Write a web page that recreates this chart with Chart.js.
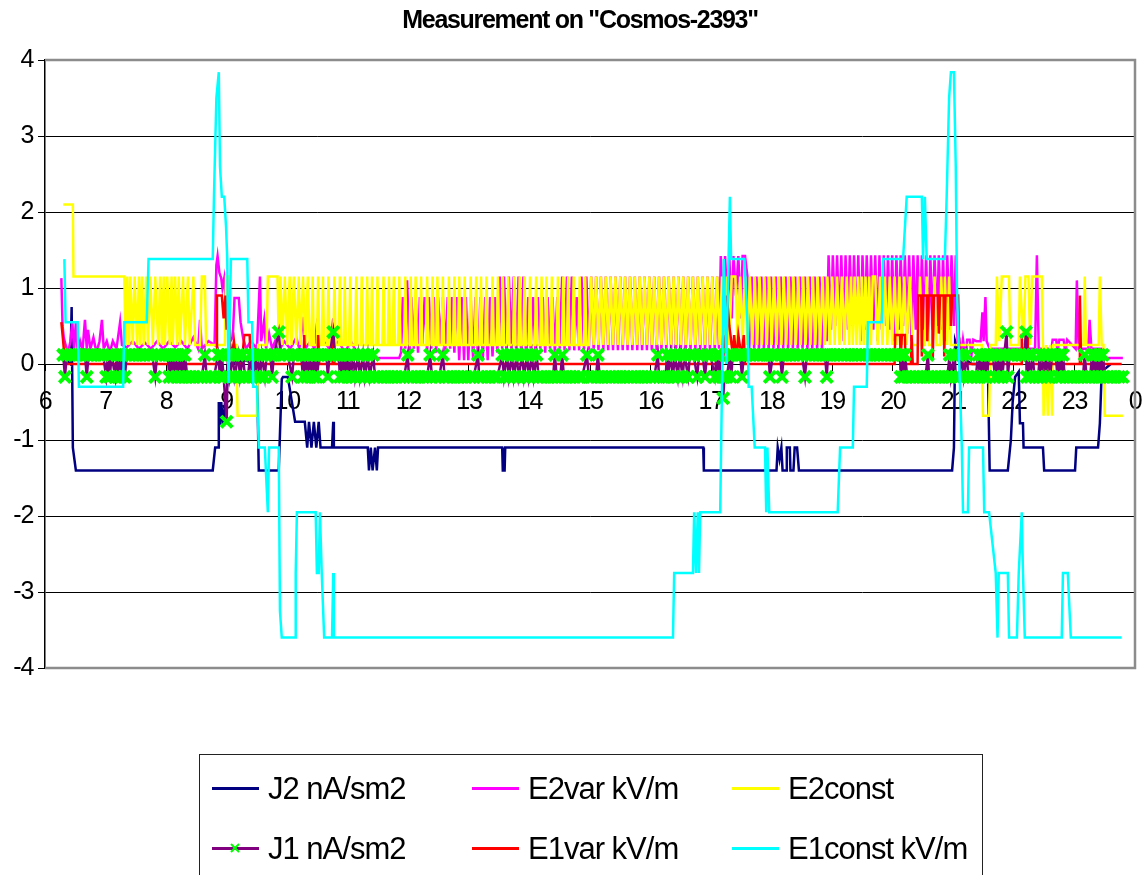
<!DOCTYPE html>
<html>
<head>
<meta charset="utf-8">
<title>Measurement on "Cosmos-2393"</title>
<script src="https://cdn.jsdelivr.net/npm/chart.js@4.4.0/dist/chart.umd.min.js"></script>
<style>
  body { margin: 0; background: #fff; }
  #wrap { position: relative; width: 1146px; height: 875px; overflow: hidden; }
  #legend {
    position: absolute; left: 199px; top: 754px; width: 784px; height: 140px;
    border: 1px solid #222; box-sizing: border-box;
    font-family: "Liberation Sans", Arial, sans-serif; font-size: 31px; color: #000;
  }
  .item { position: absolute; height: 36px; }
  .item .line { position: absolute; left: 0; top: 16px; width: 47px; height: 3px; }
  .item .txt { position: absolute; left: 56px; top: 0; line-height: 36px; white-space: nowrap; letter-spacing: -1px; }
  .item svg { position: absolute; left: 18px; top: 12px; }
</style>
</head>
<body>
<div id="wrap">
  <canvas id="graph" width="1146" height="875"></canvas>
  <div id="legend"></div>
</div>
<script>
//------------ tick labels ------------//
var hourLabels = ['6','7','8','9','10','11','12','13','14','15','16','17','18','19','20','21','22','23','0'];

//------------ series names ------------//
var seriesNames = ['J2 nA/sm2', 'E2var kV/m', 'E2const', 'J1 nA/sm2', 'E1var kV/m', 'E1const kV/m'];

//------------ data: [hour, value] ------------//
var j2Data = [
  [6.30,0.1],[6.42,0],[6.44,0.75],[6.46,-1.1],[6.51,-1.4],[8.77,-1.4],[8.81,-1.1],[8.86,-1.1],[8.87,-0.5],[8.89,-0.8],
  [8.91,-0.5],[8.94,-0.8],[8.98,-0.45],[9.05,0],[9.30,0.05],[9.50,0],[9.53,-1.4],[9.86,-1.4],[9.91,-0.2],[9.93,-0.17],
  [10.01,-0.17],[10.13,-0.76],[10.29,-0.76],[10.33,-1.1],[10.36,-0.76],[10.40,-1.1],[10.44,-0.76],[10.48,-1.1],[10.52,-0.76],[10.55,-1.1],
  [10.74,-1.1],[10.76,-0.76],[10.77,-1.1],[11.33,-1.1],[11.35,-1.4],[11.38,-1.1],[11.41,-1.4],[11.45,-1.1],[11.48,-1.4],[11.50,-1.1],
  [13.55,-1.1],[13.56,-1.4],[13.59,-1.4],[13.60,-1.1],[16.87,-1.1],[16.88,-1.4],[18.08,-1.4],[18.10,-1.1],[18.13,-1.25],[18.16,-1.1],
  [18.18,-1.4],[18.24,-1.4],[18.25,-1.1],[18.30,-1.1],[18.31,-1.4],[18.36,-1.4],[18.38,-1.1],[18.42,-1.1],[18.45,-1.4],[20.98,-1.4],
  [21.01,-1.1],[21.03,0.3],[21.10,0.1],[21.31,0],[21.57,0],[21.60,-1.4],[21.90,-1.4],[21.95,-1.0],[21.98,-0.5],[22.02,-0.17],
  [22.08,-0.1],[22.10,-0.78],[22.15,-0.78],[22.16,-1.1],[22.48,-1.1],[22.50,-1.4],[23.01,-1.4],[23.03,-1.1],[23.39,-1.1],[23.42,-0.78],
  [23.45,-0.1],[23.60,0]
];

var e2varData = [
  [6.27,1.13],[6.29,0.5],[6.31,0.35],[6.34,0.25],[6.38,0.15],[6.42,0.3],[6.45,0.55],[6.48,0.2],[6.51,0.55],[6.54,0.15],
  [6.58,0.3],[6.62,0.18],[6.66,0.58],[6.69,0.2],[6.71,0.45],[6.75,0.2],[6.80,0.35],[6.85,0.15],[6.90,0.3],[6.94,0.58],
  [6.97,0.2],[7.02,0.3],[7.07,0.15],[7.12,0.3],[7.18,0.2],[7.24,0.55],[7.27,0.25],[7.35,0.22],[7.45,0.3],[7.55,0.2],
  [7.65,0.28],[7.75,0.2],[7.85,0.3],[7.95,0.2],[8.05,0.3],[8.15,0.22],[8.25,0.3],[8.35,0.2],[8.45,0.35],[8.53,0.2],
  [8.56,0.58],[8.59,0.2],[8.70,0.3],[8.80,0.25],[8.83,1.3],[8.85,1.42],[8.88,1.2],[8.91,1.13],[8.93,1.0],[8.96,1.13],
  [8.98,0.9],[9.00,0.5],[9.03,0.85],[9.06,0.3],[9.10,0.35],[9.13,0.87],[9.20,0.87],[9.23,0.55],[9.27,0.35],[9.32,0.2],
  [9.40,0.3],[9.50,0.2],[9.55,1.15],[9.57,0.3],[9.62,0.58],[9.65,0.2],[9.70,0.4],[9.75,0.2],[9.80,0.3],[9.85,0.15],
  [9.95,0.3],[10.05,0.2],[10.15,0.35],[10.20,0.2],[10.27,0.62],[10.30,0.2],[10.38,0.3],[10.45,0.2],[10.50,0.6],[10.53,0.25],
  [10.60,0.3],[10.70,0.2],[10.76,0.6],[10.79,0.25],[10.85,0.3],[10.95,0.15],[11.05,0.3],[11.15,0.15],[11.25,0.1],[11.30,0.08],
  [11.85,0.08],[11.88,0.15],[11.91,0.88],[11.95,0.2],[11.98,1.1],[12.02,0.15],[12.05,0.88],[12.09,0.2],[12.12,0.88],[12.16,0.15],
  [12.19,0.88],[12.23,0.25],[12.27,0.88],[12.31,0.15],[12.34,0.88],[12.38,0.2],[12.42,0.88],[12.46,0.15],[12.49,0.88],[12.53,0.25],
  [12.57,0.88],[12.61,0.15],[12.65,0.88],[12.69,0.2],[12.72,0.88],[12.76,0.15],[12.80,0.88],[12.84,0.05],[12.88,0.88],[12.92,0.05],
  [12.95,0.88],[12.99,0.05],[13.03,0.88],[13.07,0.05],[13.11,0.88],[13.15,0.05],[13.19,0.88],[13.23,0.05],[13.27,0.88],[13.31,0.05],
  [13.35,0.88],[13.39,0.1],[13.43,0.88],[13.47,0.15],[13.51,1.15],[13.55,0.2],[13.58,1.15],[13.62,0.15],[13.66,1.15],[13.70,0.2],
  [13.74,1.15],[13.78,0.15],[13.82,1.15],[13.86,0.2],[13.90,1.15],[13.94,0.15],[13.98,0.88],[14.02,0.2],[14.06,0.88],[14.10,0.15],
  [14.14,0.88],[14.18,0.2],[14.22,0.88],[14.26,0.15],[14.30,0.88],[14.34,0.2],[14.38,0.88],[14.42,0.15],[14.46,0.88],[14.50,0.2],
  [14.54,1.15],[14.58,0.18],[14.62,1.15],[14.66,0.18],[14.70,1.15],[14.74,0.18],[14.78,0.88],[14.82,0.18],[14.86,1.15],[14.90,0.18],
  [14.94,1.15],[14.98,0.18],[15.02,1.15],[15.06,0.18],[15.10,1.15],[15.14,0.18],[15.18,1.15],[15.22,0.18],[15.26,1.15],[15.30,0.18],
  [15.34,1.15],[15.38,0.18],[15.42,1.15],[15.46,0.18],[15.50,1.15],[15.54,0.18],[15.58,1.15],[15.62,0.18],[15.66,1.15],[15.70,0.18],
  [15.74,1.15],[15.78,0.18],[15.82,1.15],[15.86,0.18],[15.90,1.15],[15.94,0.18],[15.98,1.15],[16.02,0.18],[16.06,1.15],[16.10,0.18],
  [16.14,1.15],[16.18,0.18],[16.22,1.15],[16.26,0.18],[16.30,1.15],[16.34,0.18],[16.38,1.15],[16.42,0.18],[16.46,1.15],[16.50,0.18],
  [16.54,1.15],[16.58,0.18],[16.62,1.15],[16.66,0.18],[16.70,1.15],[16.74,0.18],[16.78,1.15],[16.82,0.18],[16.86,1.15],[16.90,0.18],
  [16.94,1.15],[16.98,0.18],[17.02,1.15],[17.06,0.18],[17.10,1.15],[17.13,0.2],[17.16,1.42],[17.20,0.6],[17.23,1.42],[17.27,0.8],
  [17.30,1.42],[17.34,0.6],[17.37,1.42],[17.41,0.9],[17.45,1.42],[17.49,0.6],[17.52,1.42],[17.56,1.42],[17.60,1.15],[17.63,0.2],
  [17.67,1.15],[17.71,0.2],[17.75,1.15],[17.79,0.18],[17.83,1.15],[17.87,0.2],[17.91,1.15],[17.95,0.18],[17.99,1.15],[18.03,0.2],
  [18.07,1.15],[18.11,0.18],[18.15,1.15],[18.19,0.2],[18.23,1.15],[18.27,0.18],[18.31,1.15],[18.35,0.2],[18.39,1.15],[18.43,0.18],
  [18.47,1.15],[18.51,0.2],[18.55,1.15],[18.59,0.18],[18.63,1.15],[18.67,0.2],[18.71,1.15],[18.75,0.18],[18.79,1.15],[18.83,0.2],
  [18.87,1.15],[18.91,0.3],[18.94,1.43],[18.98,0.45],[19.01,1.43],[19.05,0.5],[19.08,1.43],[19.12,0.45],[19.15,1.43],[19.19,0.3],
  [19.22,1.43],[19.26,0.45],[19.29,1.43],[19.33,0.5],[19.36,1.43],[19.40,0.45],[19.43,1.43],[19.47,0.3],[19.50,1.43],[19.54,0.45],
  [19.57,1.43],[19.61,0.5],[19.64,1.43],[19.68,0.45],[19.71,1.43],[19.75,0.3],[19.78,1.43],[19.82,0.45],[19.85,1.43],[19.89,0.5],
  [19.92,1.43],[19.96,0.45],[19.99,1.43],[20.03,0.3],[20.06,1.43],[20.10,0.45],[20.13,1.43],[20.17,0.5],[20.20,1.43],[20.24,0.4],
  [20.27,1.43],[20.31,0.3],[20.34,1.43],[20.38,0.45],[20.41,1.43],[20.45,0.5],[20.48,1.43],[20.52,0.45],[20.55,1.43],[20.59,0.3],
  [20.62,1.43],[20.66,0.45],[20.69,1.43],[20.73,0.5],[20.76,1.43],[20.80,0.45],[20.83,1.43],[20.87,0.3],[20.90,1.43],[20.94,0.45],
  [20.97,1.43],[21.01,0.5],[21.04,1.43],[21.07,0.3],[21.10,0.32],[21.13,0.1],[21.16,0.32],[21.20,0.1],[21.23,0.32],[21.27,0.32],
  [21.30,0.12],[21.33,0.32],[21.38,0.3],[21.45,0.3],[21.48,0.68],[21.50,0.3],[21.53,0.88],[21.55,0.3],[21.60,0.2],[22.35,0.2],
  [22.38,1.43],[22.41,0.2],[22.62,0.2],[22.64,0.32],[22.70,0.32],[22.72,0.15],[22.75,0.32],[22.82,0.32],[22.85,0.15],[22.88,0.32],
  [23.02,0.2],[23.04,1.1],[23.07,0.2],[23.23,0.2],[23.25,0.58],[23.28,0.2],[23.45,0.2],[23.47,0.08],[23.80,0.08]
];

var e2constData = [
  [6.30,2.1],[6.46,2.1],[6.47,1.15],[7.31,1.15],[7.33,0.25],[7.36,1.15],[7.39,0.25],[7.41,1.15],[7.45,0.25],[7.48,1.15],
  [7.52,0.25],[7.55,1.15],[7.57,0.25],[7.60,1.15],[7.63,0.25],[7.67,1.15],[7.70,0.25],[7.74,1.15],[7.78,0.25],[7.82,1.15],
  [7.87,0.25],[7.90,1.15],[7.93,0.25],[7.96,1.15],[7.98,0.25],[8.02,1.15],[8.06,0.25],[8.09,1.15],[8.11,0.25],[8.15,1.15],
  [8.18,0.25],[8.21,1.15],[8.23,0.25],[8.28,1.15],[8.31,0.25],[8.36,1.15],[8.39,0.25],[8.45,1.15],[8.48,0.25],[8.56,0.25],
  [8.59,1.15],[8.64,1.15],[8.66,0.25],[8.97,0.25],[8.99,1.15],[9.03,1.15],[9.05,0.25],[9.16,0.25],[9.18,-0.68],[9.50,-0.68],
  [9.52,0.25],[9.66,0.25],[9.68,1.15],[9.84,1.15],[9.86,0.25],[9.89,1.15],[9.92,0.25],[9.96,1.15],[10.00,0.25],[10.04,1.15],
  [10.07,0.25],[10.11,1.15],[10.15,0.25],[10.19,1.15],[10.22,0.25],[10.26,1.15],[10.30,0.25],[10.34,1.15],[10.37,0.25],
  [10.40,0.25],[10.42,1.15],[10.44,0.25],[10.49,0.25],[10.51,1.15],[10.53,0.25],[10.57,0.25],[10.59,1.15],[10.61,0.25],
  [10.66,0.25],[10.68,1.15],[10.70,0.25],[10.76,0.25],[10.78,1.15],[10.80,0.25],[10.85,0.25],[10.87,1.15],[10.89,0.25],
  [10.93,0.25],[10.95,1.15],[10.97,0.25],[11.02,0.25],[11.04,1.15],[11.06,0.25],[11.12,0.25],[11.14,1.15],[11.16,0.25],
  [11.21,0.25],[11.23,1.15],[11.25,0.25],[11.30,0.25],[11.32,1.15],[11.34,0.25],[11.38,0.25],[11.40,1.15],[11.42,0.25],
  [11.47,0.25],[11.49,1.15],[11.51,0.25],[11.57,0.25],[11.59,1.15],[11.61,0.25],[11.66,0.25],[11.68,1.15],[11.70,0.25],
  [11.74,0.25],[11.76,1.15],[11.78,0.25],[11.83,0.25],[11.85,1.15],[11.87,0.25],[11.93,0.25],[11.95,1.15],[11.97,0.25],
  [12.02,0.25],[12.04,1.15],[12.06,0.25],[12.10,0.25],[12.12,1.15],[12.14,0.25],[12.19,0.25],[12.21,1.15],[12.23,0.25],
  [12.29,0.25],[12.31,1.15],[12.33,0.25],[12.38,0.25],[12.40,1.15],[12.42,0.25],[12.46,0.25],[12.48,1.15],[12.50,0.25],
  [12.55,0.25],[12.57,1.15],[12.59,0.25],[12.65,0.25],[12.67,1.15],[12.69,0.25],[12.74,0.25],[12.76,1.15],[12.78,0.25],
  [12.82,0.25],[12.84,1.15],[12.86,0.25],[12.91,0.25],[12.93,1.15],[12.95,0.25],[13.01,0.25],[13.03,1.15],[13.05,0.25],
  [13.10,0.25],[13.12,1.15],[13.14,0.25],[13.18,0.25],[13.20,1.15],[13.22,0.25],[13.27,0.25],[13.29,1.15],[13.31,0.25],
  [13.37,0.25],[13.39,1.15],[13.41,0.25],[13.46,0.25],[13.48,1.15],[13.50,0.25],[13.54,0.25],[13.56,1.15],[13.58,0.25],
  [13.63,0.25],[13.65,1.15],[13.67,0.25],[13.73,0.25],[13.75,1.15],[13.77,0.25],[13.82,0.25],[13.84,1.15],[13.86,0.25],
  [13.90,0.25],[13.92,1.15],[13.94,0.25],[13.99,0.25],[14.01,1.15],[14.03,0.25],[14.09,0.25],[14.11,1.15],[14.13,0.25],
  [14.18,0.25],[14.20,1.15],[14.22,0.25],[14.26,0.25],[14.28,1.15],[14.30,0.25],[14.35,0.25],[14.37,1.15],[14.39,0.25],
  [14.45,0.25],[14.47,1.15],[14.49,0.25],[14.54,0.25],[14.56,1.15],[14.58,0.25],[14.62,0.25],[14.64,1.15],[14.66,0.25],
  [14.71,0.25],[14.73,1.15],[14.75,0.25],[14.81,0.25],[14.83,1.15],[14.85,0.25],[14.90,0.25],[14.92,1.15],[14.94,0.25],
  [14.98,0.25],[15.02,1.15],
  [15.06,0.25],[15.10,1.15],[15.14,0.25],[15.18,1.15],[15.22,0.25],[15.26,1.15],[15.30,0.25],[15.34,1.15],[15.38,0.25],[15.42,1.15],
  [15.46,0.25],[15.50,1.15],[15.54,0.25],[15.58,1.15],[15.62,0.25],[15.66,1.15],[15.70,0.25],[15.74,1.15],[15.78,0.25],[15.82,1.15],
  [15.86,0.25],[15.90,1.15],[15.94,0.25],[15.98,1.15],[16.02,0.25],[16.06,1.15],[16.10,0.25],[16.14,1.15],[16.18,0.25],[16.22,1.15],
  [16.26,0.25],[16.30,1.15],[16.34,0.25],[16.38,1.15],[16.42,0.25],[16.46,1.15],[16.50,0.25],[16.54,1.15],[16.58,0.25],[16.62,1.15],
  [16.66,0.25],[16.70,1.15],[16.74,0.25],[16.78,1.15],[16.82,0.25],[16.86,1.15],[16.90,0.25],[16.94,1.15],[16.98,0.25],[17.02,1.15],
  [17.06,0.25],[17.10,1.15],[17.14,0.25],[17.18,1.15],[17.22,0.25],[17.26,1.15],[17.30,0.25],[17.34,1.15],[17.40,1.15],[17.44,0.25],
  [17.48,1.15],[17.52,0.25],[17.56,1.15],[17.60,0.25],[17.64,1.15],[17.68,0.25],[17.72,1.15],[17.76,0.25],[17.80,1.15],[17.84,0.25],
  [17.88,1.15],[17.92,0.25],[17.96,1.15],[18.00,0.25],[18.04,1.15],[18.08,0.25],[18.12,1.15],[18.16,0.25],[18.20,1.15],[18.24,0.25],
  [18.28,1.15],[18.32,0.25],[18.36,1.15],[18.40,0.25],[18.44,1.15],[18.48,0.25],[18.52,1.15],[18.56,0.25],[18.60,1.15],[18.64,0.25],
  [18.68,1.15],[18.72,0.25],[18.76,1.15],[18.80,0.25],[18.84,1.15],[18.88,0.25],[18.92,1.15],[18.96,0.25],[19.00,1.15],[19.04,0.25],
  [19.08,1.15],[19.12,0.25],[19.16,1.15],[19.20,0.25],[19.24,1.15],[19.28,0.25],[19.31,1.15],[19.34,0.25],[19.37,1.15],[19.40,0.25],
  [19.43,1.15],[19.46,0.25],[19.49,1.15],[19.52,0.25],[19.55,1.15],[19.58,0.25],[19.61,1.15],[19.64,0.25],[19.67,1.15],[19.71,1.15],
  [19.75,0.25],[19.79,1.15],[19.83,0.25],[19.87,1.15],[19.91,0.25],[19.95,1.15],[19.99,0.25],[20.03,1.15],[20.07,0.25],[20.11,1.15],
  [20.15,0.25],[20.19,1.15],[20.23,0.25],[20.28,1.15],[20.33,0.25],[20.42,0.25],[20.45,1.15],[20.48,0.25],[20.53,0.25],[20.56,1.15],
  [20.60,0.25],[20.66,0.25],[20.69,1.15],[20.72,0.25],[20.78,0.25],[20.80,1.15],[20.84,0.25],[20.86,1.15],[20.90,0.25],[20.93,1.15],
  [20.96,0.25],[21.47,0.25],[21.49,-0.68],[21.59,-0.68],[21.61,0.25],[21.70,0.25],[21.72,1.15],[21.76,0.3],[21.80,1.15],[21.92,1.15],
  [21.94,0.25],[22.08,0.25],[22.10,1.15],[22.16,0.25],[22.19,1.15],[22.24,1.15],[22.27,0.25],[22.30,1.15],[22.46,1.15],[22.48,0.25],
  [22.49,-0.68],[22.53,0.25],[22.56,-0.68],[22.60,0.25],[22.63,-0.68],[22.65,0.25],[23.15,0.25],[23.17,1.15],[23.19,0.25],[23.40,0.25],
  [23.42,1.15],[23.45,0.25],[23.48,0.25],[23.50,-0.68],[23.80,-0.68]
];

var j1Data = [
  [6.30,0.12],[6.33,-0.17],[6.36,0.12],[6.42,0.12],[6.48,0.12],[6.54,0.12],[6.60,0.12],[6.66,0.12],[6.69,-0.17],[6.72,0.12],
  [6.78,0.12],[6.84,0.12],[6.90,0.12],[6.96,0.12],[7.01,-0.17],[7.04,0.12],[7.07,-0.17],[7.10,0.12],[7.16,-0.17],[7.18,0.12],
  [7.20,-0.17],[7.23,0.12],[7.25,-0.17],[7.28,0.12],[7.32,-0.17],[7.35,0.12],[7.41,0.12],[7.47,0.12],[7.53,0.12],[7.59,0.12],
  [7.65,0.12],[7.71,0.12],[7.77,0.12],[7.82,-0.17],[7.85,0.12],[7.91,0.12],[7.97,0.12],[8.03,0.12],[8.05,-0.17],[8.08,0.12],
  [8.11,-0.17],[8.14,0.12],[8.17,-0.17],[8.20,0.12],[8.23,-0.17],[8.26,0.12],[8.29,-0.17],[8.31,0.12],[8.35,-0.17],[8.41,-0.17],
  [8.47,-0.17],[8.53,-0.17],[8.59,-0.17],[8.64,0.12],[8.67,-0.17],[8.73,-0.17],[8.79,-0.17],[8.86,0.12],[8.89,-0.17],[8.92,0.12],
  [8.95,-0.17],[9.00,-0.76],[9.02,0.12],[9.05,-0.17],[9.10,0.12],[9.13,-0.17],[9.19,0.12],[9.22,-0.17],[9.27,0.12],[9.30,-0.17],
  [9.35,-0.17],[9.39,0.12],[9.42,-0.17],[9.45,0.12],[9.48,-0.17],[9.51,0.12],[9.55,-0.17],[9.58,0.12],[9.63,-0.17],[9.66,0.12],
  [9.72,0.12],[9.75,-0.17],[9.78,0.12],[9.86,0.42],[9.89,0.12],[9.95,0.12],[10.01,0.12],[10.08,-0.17],[10.11,0.12],[10.17,0.12],
  [10.23,0.12],[10.26,-0.17],[10.29,0.12],[10.32,-0.17],[10.35,0.12],[10.38,-0.17],[10.41,0.12],[10.44,-0.17],[10.47,0.12],[10.49,-0.17],
  [10.53,0.12],[10.59,0.12],[10.65,0.12],[10.67,-0.17],[10.70,0.12],[10.76,0.42],[10.79,0.12],[10.85,0.12],[10.87,-0.17],[10.90,0.12],
  [10.93,-0.17],[10.96,0.12],[10.99,-0.17],[11.02,0.12],[11.05,-0.17],[11.09,0.12],[11.12,-0.17],[11.17,0.12],[11.20,-0.17],[11.25,0.12],
  [11.28,-0.17],[11.33,0.12],[11.36,-0.17],[11.42,0.12],[11.45,-0.17],[11.51,-0.17],[11.57,-0.17],[11.63,-0.17],[11.69,-0.17],[11.75,-0.17],
  [11.81,-0.17],[11.87,-0.17],[11.93,-0.17],[11.99,0.12],[12.01,-0.17],[12.07,-0.17],[12.13,-0.17],[12.19,-0.17],[12.25,-0.17],[12.31,-0.17],
  [12.36,0.12],[12.39,-0.17],[12.45,-0.17],[12.51,-0.17],[12.57,0.12],[12.60,-0.17],[12.66,-0.17],[12.72,-0.17],[12.78,-0.17],[12.84,-0.17],
  [12.90,-0.17],[12.96,-0.17],[13.02,-0.17],[13.08,-0.17],[13.15,0.12],[13.17,-0.17],[13.23,-0.17],[13.29,-0.17],[13.35,-0.17],[13.41,-0.17],
  [13.47,-0.17],[13.55,0.12],[13.58,-0.17],[13.63,0.12],[13.66,-0.17],[13.71,0.12],[13.74,-0.17],[13.79,0.12],[13.82,-0.17],[13.88,0.12],
  [13.91,-0.17],[13.96,0.12],[13.99,-0.17],[14.04,0.12],[14.07,-0.17],[14.12,0.12],[14.15,-0.17],[14.21,-0.17],[14.27,-0.17],[14.33,-0.17],
  [14.39,-0.17],[14.42,0.12],[14.45,-0.17],[14.51,-0.17],[14.54,0.12],[14.57,-0.17],[14.63,-0.17],[14.69,-0.17],[14.75,-0.17],[14.81,-0.17],
  [14.87,-0.17],[14.95,0.12],[14.98,-0.17],[15.04,-0.17],[15.10,-0.17],[15.13,0.12],[15.16,-0.17],[15.22,-0.17],[15.28,-0.17],[15.34,-0.17],
  [15.40,-0.17],[15.46,-0.17],[15.52,-0.17],[15.58,-0.17],[15.64,-0.17],[15.70,-0.17],[15.76,-0.17],[15.82,-0.17],[15.88,-0.17],[15.94,-0.17],
  [16.00,-0.17],[16.06,-0.17],[16.12,0.12],[16.14,-0.17],[16.20,-0.17],[16.25,-0.17],
  [16.27,0.12],[16.29,-0.17],[16.33,0.12],[16.37,-0.17],[16.40,0.12],[16.45,-0.17],[16.48,0.12],[16.53,-0.17],[16.56,0.12],
  [16.62,-0.17],[16.65,0.12],[16.71,0.12],[16.77,-0.17],[16.80,0.12],[16.86,0.12],[16.90,-0.17],[16.93,0.12],[16.99,0.12],[17.06,-0.17],
  [17.09,0.12],[17.12,-0.17],[17.15,0.12],[17.18,-0.17],[17.20,-0.45],[17.22,-0.17],[17.26,-0.17],[17.31,0.12],[17.33,-0.17],[17.36,0.12],
  [17.42,0.12],[17.48,0.12],[17.51,-0.17],[17.54,0.12],[17.60,0.12],[17.66,0.12],[17.72,0.12],[17.78,0.12],[17.84,0.12],[17.90,0.12],
  [17.95,0.12],[17.97,-0.17],[18.02,0.12],[18.08,0.12],[18.14,0.12],[18.17,-0.17],[18.20,0.12],[18.26,0.12],[18.32,0.12],[18.38,0.12],
  [18.44,0.12],[18.50,0.12],[18.55,-0.17],[18.58,0.12],[18.64,0.12],[18.70,0.12],[18.76,0.12],[18.82,0.12],[18.88,0.12],[18.91,-0.17],
  [18.93,0.12],[18.99,0.12],[19.05,0.12],[19.11,0.12],[19.17,0.12],[19.23,0.12],[19.29,0.12],[19.35,0.12],[19.41,0.12],[19.47,0.12],
  [19.53,0.12],[19.59,0.12],[19.65,0.12],[19.71,0.12],[19.77,0.12],[19.83,0.12],[19.89,0.12],[19.95,0.12],[20.01,0.12],[20.07,0.12],
  [20.12,0.12],[20.13,-0.17],[20.16,0.12],[20.18,-0.17],[20.20,0.12],[20.24,-0.17],[20.30,-0.17],[20.36,-0.17],[20.42,-0.17],[20.48,-0.17],
  [20.54,-0.17],[20.58,0.12],[20.60,-0.17],[20.66,-0.17],[20.72,-0.17],[20.78,-0.17],[20.84,-0.17],[20.90,-0.17],
  [20.94,0.12],[20.96,-0.17],[21.02,0.12],[21.04,-0.17],[21.10,-0.17],[21.14,0.12],[21.17,-0.17],[21.22,0.12],[21.25,-0.17],[21.31,-0.17],
  [21.37,-0.17],[21.41,0.12],[21.44,-0.17],[21.47,0.12],[21.50,-0.17],[21.53,0.12],[21.55,-0.17],[21.59,0.12],[21.65,0.12],[21.69,-0.17],
  [21.72,0.12],[21.75,-0.17],[21.78,0.12],[21.81,-0.17],[21.84,0.12],[21.88,0.42],[21.90,-0.17],[21.93,0.12],[21.99,0.12],[22.05,0.12],
  [22.11,0.12],[22.17,0.12],[22.20,0.42],[22.21,-0.17],[22.24,0.12],[22.27,-0.17],[22.31,0.12],[22.34,-0.17],[22.40,-0.17],[22.43,0.12],
  [22.46,-0.17],[22.50,0.12],[22.53,-0.17],[22.56,0.12],[22.60,-0.17],[22.63,0.12],[22.69,0.12],[22.72,-0.17],[22.75,0.12],[22.78,-0.17],
  [22.81,0.12],[22.84,-0.17],[22.90,-0.17],[22.96,-0.17],[23.02,-0.17],[23.08,-0.17],[23.14,-0.17],[23.17,0.12],[23.20,-0.17],[23.26,-0.17],
  [23.29,0.12],[23.32,-0.17],[23.35,0.12],[23.38,-0.17],[23.41,0.12],[23.44,-0.17],[23.47,0.12],[23.50,-0.17],[23.56,-0.17],[23.62,-0.17],
  [23.68,-0.17],[23.74,-0.17],[23.80,-0.17]
];

var e1varData = [
  [6.27,0.55],[6.30,0.3],[6.33,0],[8.83,0],[8.84,0.9],[8.92,0.9],[8.95,0.6],[8.98,0.9],[9.00,0.45],[9.03,0.9],
  [9.05,0.3],[9.08,0.1],[9.12,0.3],[9.16,0],[9.25,0],[9.29,0.38],[9.38,0.38],[9.40,0],[10.27,0],[10.28,0.38],
  [10.30,0],[10.50,0],[10.51,0.38],[10.53,0],[10.75,0],[10.76,0.42],[10.78,0],[17.18,0],[17.20,0.38],[17.24,0.1],
  [17.26,0.9],[17.30,0.5],[17.32,0.38],[17.36,0.1],[17.38,0.38],[17.42,0.05],[17.45,0.38],[17.50,0.1],[17.54,0.38],[17.56,0],
  [20.03,0],[20.04,0.38],[20.12,0.38],[20.13,0.05],[20.15,0.38],[20.20,0.38],[20.21,0],[20.30,0],[20.31,0.38],[20.33,0],
  [20.41,0],[20.42,0.9],[20.47,0.9],[20.48,0.1],[20.50,0.9],[20.56,0.9],[20.57,0.3],[20.59,0.9],[20.65,0.9],[20.66,0.05],
  [20.68,0.9],[20.75,0.9],[20.76,0.4],[20.78,0.9],[20.84,0.9],[20.85,0.1],[20.87,0.9],[20.95,0.9],[20.96,0.5],[20.98,0.9],
  [21.08,0.9],[21.10,0],[22.12,0],[22.13,0.38],[22.22,0.38],[22.23,0],[23.08,0],[23.09,0.9],[23.11,0],[23.78,0]
];

var e1constData = [
  [6.32,1.38],[6.34,0.55],[6.54,0.55],[6.56,-0.3],[7.29,-0.3],[7.31,0.55],[7.68,0.55],[7.71,1.38],[8.77,1.38],[8.79,2.2],
  [8.83,3.5],[8.87,3.84],[8.89,2.6],[8.92,2.2],[8.96,2.2],[8.99,1.8],[9.01,1.38],[9.03,-0.25],[9.07,1.38],[9.34,1.38],
  [9.36,0.55],[9.42,0.55],[9.44,-0.3],[9.50,-0.3],[9.53,-1.1],[9.63,-1.1],[9.68,-1.95],[9.70,-1.1],[9.86,-1.1],[9.88,-3.25],
  [9.91,-3.6],[10.13,-3.6],[10.14,-2.75],[10.16,-1.95],[10.47,-1.95],[10.49,-2.75],[10.52,-2.75],[10.54,-1.95],[10.57,-2.75],[10.61,-3.6],
  [10.74,-3.6],[10.76,-2.75],[10.77,-3.6],[16.37,-3.6],[16.39,-2.75],[16.70,-2.75],[16.72,-1.95],[16.75,-2.75],[16.78,-1.95],[16.80,-2.75],
  [16.82,-1.95],[17.15,-1.95],[17.21,1.38],[17.25,0],[17.31,2.2],[17.33,1.38],[17.55,1.38],[17.60,0.55],[17.62,-0.3],[17.67,-0.3],
  [17.72,-1.1],[17.89,-1.1],[17.91,-1.95],[17.93,-1.1],[17.96,-1.95],[19.09,-1.95],[19.13,-1.1],[19.34,-1.1],[19.36,-0.3],[19.57,-0.3],
  [19.59,0.55],[19.82,0.55],[19.84,1.38],[20.17,1.38],[20.23,2.2],[20.48,2.2],[20.50,1.38],[20.53,2.2],[20.56,1.38],[20.86,1.38],
  [20.89,2.2],[20.93,3.5],[20.96,3.84],[21.01,3.84],[21.04,2.6],[21.06,1],[21.14,-1.1],[21.16,-1.95],[21.24,-1.95],[21.26,-1.1],
  [21.49,-1.1],[21.51,-1.95],[21.59,-1.95],[21.70,-2.75],[21.73,-3.6],[21.75,-2.75],[21.90,-2.75],[21.92,-3.6],[22.05,-3.6],[22.08,-2.75],
  [22.13,-1.95],[22.15,-2.75],[22.18,-3.6],[22.79,-3.6],[22.81,-2.75],[22.89,-2.75],[22.94,-3.6],[23.78,-3.6]
];

function toPoints(list) {
  return list.map(function (p) { return { x: p[0], y: p[1] }; });
}

var FONT = '"Liberation Sans", Arial, sans-serif';

//------------ tight text like the Excel original ------------//
var tightText = {
  id: 'tightText',
  beforeDraw: function (chart) { chart.ctx.letterSpacing = '-1.3px'; },
  beforeDatasetsDraw: function (chart) { chart.ctx.letterSpacing = '0px'; }
};

//------------ title sits over the plot area, not the canvas ------------//
var titleOverPlot = {
  id: 'titleOverPlot',
  afterLayout: function (chart) {
    if (chart.titleBlock) { chart.titleBlock.left += 25; }
  }
};

//------------ plot area frame (grey, like the original) ------------//
var plotFrame = {
  id: 'plotFrame',
  beforeDatasetsDraw: function (chart) {
    var ctx = chart.ctx, a = chart.chartArea;
    ctx.save();
    ctx.strokeStyle = '#8c8c8c';
    ctx.lineWidth = 2.5;
    ctx.beginPath();
    ctx.moveTo(a.left, a.top);
    ctx.lineTo(a.right, a.top);
    ctx.lineTo(a.right, a.bottom);
    ctx.lineTo(a.left, a.bottom);
    ctx.stroke();
    ctx.restore();
  }
};

function lineSet(label, data, color, order) {
  return {
    label: label,
    data: toPoints(data),
    borderColor: color,
    backgroundColor: color,
    borderWidth: 2.5,
    pointRadius: 0,
    tension: 0,
    order: order
  };
}

var datasets = [
  lineSet(seriesNames[0], j2Data, '#000080', 5),
  lineSet(seriesNames[1], e2varData, '#FF00FF', 4),
  lineSet(seriesNames[2], e2constData, '#FFFF00', 3),
  {
    label: seriesNames[3],
    data: toPoints(j1Data),
    borderColor: '#800080',
    backgroundColor: '#00FF00',
    borderWidth: 2.5,
    pointStyle: 'crossRot',
    pointRadius: 8,
    pointBorderColor: '#00FF00',
    pointBorderWidth: 4,
    tension: 0,
    order: 1
  },
  lineSet(seriesNames[4], e1varData, '#FF0000', 2),
  lineSet(seriesNames[5], e1constData, '#00FFFF', 0)
];

var ctx = document.getElementById('graph');
var myChart = new Chart(ctx, {
  type: 'line',
  data: { datasets: datasets },
  plugins: [tightText, titleOverPlot, plotFrame],
  options: {
    responsive: false,
    animation: false,
    layout: { autoPadding: false, padding: { left: 0, right: 11, top: 0, bottom: 207 } },
    plugins: {
      legend: { display: false },
      tooltip: { enabled: false },
      title: {
        display: true,
        text: 'Measurement on "Cosmos-2393"',
        color: '#000',
        font: { family: FONT, size: 25, weight: 'bold' },
        padding: { top: 6, bottom: 24 }
      }
    },
    scales: {
      x: {
        type: 'linear',
        min: 6,
        max: 24,
        position: { y: 0 },
        afterFit: function (scale) { scale.paddingLeft = 0; scale.paddingRight = 0; },
        grid: { drawOnChartArea: false, tickLength: 6, color: '#000' },
        border: { color: '#000', width: 1 },
        ticks: {
          stepSize: 1,
          autoSkip: false,
          maxRotation: 0,
          padding: 17,
          color: '#000',
          font: { family: FONT, size: 25 },
          callback: function (value) { return hourLabels[Math.round(value) - 6]; }
        }
      },
      y: {
        min: -4,
        max: 4,
        afterFit: function (scale) { scale.width = 45; },
        grid: { color: '#000', lineWidth: 1, tickLength: 7 },
        border: { color: '#000', width: 1.5 },
        ticks: {
          stepSize: 1,
          padding: 5,
          color: '#000',
          font: { family: FONT, size: 25 }
        }
      }
    }
  }
});

//------------ legend (3 columns, 2 rows like Excel) ------------//
var legend = document.getElementById('legend');
datasets.forEach(function (ds, i) {
  var col = i % 3, row = Math.floor(i / 3);
  var item = document.createElement('div');
  item.className = 'item';
  item.style.left = (12 + col * 260) + 'px';
  item.style.top = (16 + row * 60) + 'px';
  var ln = document.createElement('div');
  ln.className = 'line';
  ln.style.background = ds.borderColor;
  item.appendChild(ln);
  if (ds.pointStyle === 'crossRot') {
    item.insertAdjacentHTML('beforeend',
      '<svg width="10" height="10"><path d="M1 1L9 9M9 1L1 9" stroke="#00FF00" stroke-width="2"/></svg>');
  }
  var tx = document.createElement('div');
  tx.className = 'txt';
  tx.textContent = ds.label;
  item.appendChild(tx);
  legend.appendChild(item);
});
</script>
</body>
</html>
